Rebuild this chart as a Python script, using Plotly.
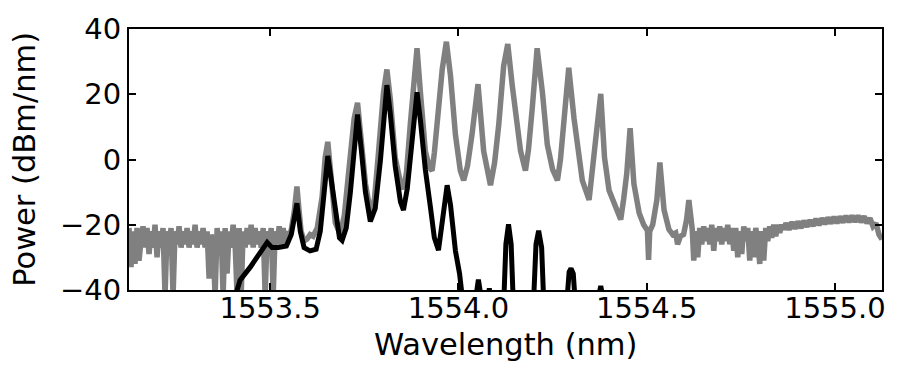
import numpy as np
import plotly.graph_objects as go

# ---------------- data ----------------
# Gray spectrum: left noise floor (uniform sample grid 1553.125 .. 1553.5505 nm)
gray_left_start, gray_left_end = 1553.125, 1553.5505
gray_left_y = [
    -21, -33, -22, -32, -21, -31, -25, -20.5, -27, -21,
    -29, -22, -27, -20, -30, -22, -27, -21, -42, -22,
    -26, -21, -42, -22, -26, -20.5, -27, -22, -26, -21,
    -27, -22, -26, -20, -27, -22, -26, -21, -27, -22,
    -36.5, -23, -26, -42, -21, -27, -22, -42, -21, -35,
    -22, -27, -20, -26, -42, -21, -42, -22, -27, -21,
    -26, -20, -27, -21, -26, -22, -27, -21, -42, -22,
    -26, -21, -42, -22, -26, -20.5, -27, -21, -26, -22,
    -24,
]

# Gray spectrum: comb lines region
gray_peak_x = [
    1553.556, 1553.564, 1553.571, 1553.577, 1553.582, 1553.590, 1553.598, 1553.606, 1553.614, 1553.625,
    1553.638, 1553.646, 1553.653, 1553.661, 1553.673, 1553.686, 1553.697, 1553.708, 1553.723, 1553.732,
    1553.741, 1553.753, 1553.768, 1553.777, 1553.788, 1553.801, 1553.810, 1553.819, 1553.832, 1553.846,
    1553.855, 1553.862, 1553.872, 1553.882, 1553.890, 1553.899, 1553.912, 1553.923, 1553.930, 1553.936,
    1553.943, 1553.957, 1553.968, 1553.979, 1553.992, 1554.005, 1554.014, 1554.024, 1554.036, 1554.052,
    1554.067, 1554.085, 1554.096, 1554.107, 1554.120, 1554.131, 1554.143, 1554.152, 1554.165, 1554.178,
    1554.186, 1554.196, 1554.209, 1554.223, 1554.236, 1554.250, 1554.263, 1554.271, 1554.280, 1554.293,
    1554.307, 1554.316, 1554.329, 1554.347, 1554.354, 1554.364, 1554.378, 1554.388, 1554.400, 1554.415,
    1554.431, 1554.439, 1554.447, 1554.456, 1554.466, 1554.480, 1554.492, 1554.502, 1554.505, 1554.508,
    1554.516, 1554.527, 1554.535, 1554.546, 1554.559, 1554.569, 1554.577, 1554.582, 1554.590, 1554.598,
    1554.606, 1554.612, 1554.621,
]
gray_peak_y = [
    -21.5, -16, -8.3, -16, -22, -25, -24.4, -23, -23.5, -21,
    -11.4, 0.6, 5.4, -4.4, -19.4, -23, -17, -4.4, 12.6, 17.4,
    7.6, -7.4, -17.3, -12, 2.6, 20.6, 27.6, 18.6, 0.6, -7,
    -9, -4, 10.6, 26, 34.1, 20.6, 2.6, -2.5, -3.4, 2,
    10.6, 27.7, 36.1, 25.6, 7.6, -3.4, -6.4, -2, 7.6, 23.1,
    2.6, -7.9, -1, 10.6, 28.6, 35.4, 22.6, 14.6, 2.6, -3.4,
    3, 15.6, 34.1, 20.6, 4.6, -3, -6.4, 0, 10.6, 28.1,
    12.6, 5.6, -6.4, -12.4, -6, 5.6, 20.1, 0.6, -9.4, -14,
    -18.4, -12, -4.4, 9.6, -7.4, -16.4, -20, -21.8, -30.8, -22,
    -20, -12.4, -0.9, -15.4, -21.4, -23, -22.5, -26, -23.5, -23,
    -18.4, -12.4, -21.4,
]

# Gray spectrum: right noise floor (uniform grid 1554.625 .. 1554.864 nm)
gray_right_start, gray_right_end = 1554.625, 1554.864
gray_right_y = [
    -31, -22, -30, -21, -26, -20.5, -25, -21, -26, -20,
    -28, -21, -25, -20.5, -26, -21, -25, -20, -26, -21,
    -28, -21, -30, -22, -29, -20.5, -25, -21, -31, -22,
    -30, -21, -25, -32, -22, -31, -21, -25, -20.5, -24,
    -20, -23.5, -20, -22.5, -20, -21.5,
]

# Gray spectrum: smooth tail (uniform grid 1554.870 .. 1555.125 nm)
gray_tail_start, gray_tail_end = 1554.870, 1555.125
gray_tail_y = [
    -19.5, -21.5, -19.2, -21.2, -19, -21, -18.8, -20.6, -18.6, -20.4,
    -18.2, -20.1, -18, -19.8, -17.8, -19.6, -17.6, -19.5, -17.5, -19.3,
    -17.3, -19.2, -17.2, -19.1, -17.2, -19.2, -17.4, -19.5, -18, -20.5,
    -19.5, -23, -24.5,
]

# Black (filtered) spectrum
black_x = [
    1553.399, 1553.420, 1553.447, 1553.473, 1553.492, 1553.505, 1553.521, 1553.543, 1553.556, 1553.564,
    1553.571, 1553.580, 1553.590, 1553.606, 1553.622, 1553.633, 1553.644, 1553.653, 1553.662, 1553.673,
    1553.684, 1553.691, 1553.702, 1553.713, 1553.723, 1553.732, 1553.742, 1553.753, 1553.766, 1553.779,
    1553.793, 1553.803, 1553.810, 1553.819, 1553.832, 1553.846, 1553.854, 1553.864, 1553.875, 1553.890,
    1553.899, 1553.912, 1553.926, 1553.936, 1553.947, 1553.957, 1553.970, 1553.979, 1553.992, 1554.003,
    1554.013, 1554.043, 1554.053, 1554.064, 1554.077, 1554.082, 1554.088, 1554.120, 1554.126, 1554.133,
    1554.140, 1554.146, 1554.199, 1554.206, 1554.213, 1554.221, 1554.227, 1554.287, 1554.294, 1554.299,
    1554.305, 1554.311, 1554.367, 1554.378, 1554.388,
]
black_y = [
    -45, -37, -33, -28.5, -25.4, -27, -27, -26.5, -23, -18,
    -13.4, -22, -27, -28, -27.5, -22, -8, 1.1, -6, -16,
    -24, -24.8, -21, -10, 5, 13.8, 3, -10, -19, -15,
    0, 14, 22.8, 14, -2, -13, -15.5, -9, 5, 20.6,
    12, -3, -15, -24, -27.8, -20, -7.9, -14, -28, -35,
    -45, -45, -36.8, -45, -45, -39.5, -45, -45, -26, -19.9,
    -26, -45, -45, -26, -21.8, -27, -45, -45, -34.5, -33.4,
    -35, -45, -45, -38.8, -45,
]

x_ticks = [1553.5, 1554.0, 1554.5, 1555.0]
x_ticklabels = ["1553.5", "1554.0", "1554.5", "1555.0"]
y_ticks = [-40, -20, 0, 20, 40]
y_ticklabels = ["\u221240", "\u221220", "0", "20", "40"]
x_title = "Wavelength (nm)"
y_title = "Power (dBm/nm)"

# ---------------- assemble ----------------
gray_x = (list(np.linspace(gray_left_start, gray_left_end, len(gray_left_y)))
          + gray_peak_x
          + list(np.linspace(gray_right_start, gray_right_end, len(gray_right_y)))
          + list(np.linspace(gray_tail_start, gray_tail_end, len(gray_tail_y))))
gray_y = gray_left_y + gray_peak_y + gray_right_y + gray_tail_y

fig = go.Figure()
fig.add_trace(go.Scatter(x=gray_x, y=gray_y, mode="lines",
                         line=dict(color="rgb(128,128,128)", width=5.5),
                         showlegend=False, hoverinfo="skip"))
fig.add_trace(go.Scatter(x=black_x, y=black_y, mode="lines",
                         line=dict(color="black", width=5),
                         showlegend=False, hoverinfo="skip"))

tick_font = dict(family="DejaVu Sans", size=29, color="black")
title_font = dict(family="DejaVu Sans", size=30.5, color="black")
axis_common = dict(showline=True, linecolor="black", linewidth=2, mirror="ticks",
                   ticks="inside", ticklen=7, tickwidth=1.5, tickcolor="black",
                   showgrid=False, zeroline=False, tickfont=tick_font)

fig.update_layout(
    width=898, height=369,
    margin=dict(l=129, r=16, t=22, b=79),
    paper_bgcolor="white", plot_bgcolor="white",
    font=tick_font,
    xaxis=dict(range=[1553.125, 1555.125], tickvals=x_ticks, ticktext=x_ticklabels,
               ticklabelstandoff=-9, **axis_common),
    yaxis=dict(range=[-40, 40], tickvals=y_ticks, ticktext=y_ticklabels, **axis_common),
    annotations=[
        dict(text=x_title, xref="paper", yref="paper", x=0.5, y=-0.207,
             xanchor="center", yanchor="middle", showarrow=False, font=title_font),
        dict(text=y_title, xref="paper", yref="paper", x=-0.139, y=0.5,
             xanchor="center", yanchor="middle", showarrow=False, font=title_font,
             textangle=-90),
    ],
)

fig.write_html("out.html")
